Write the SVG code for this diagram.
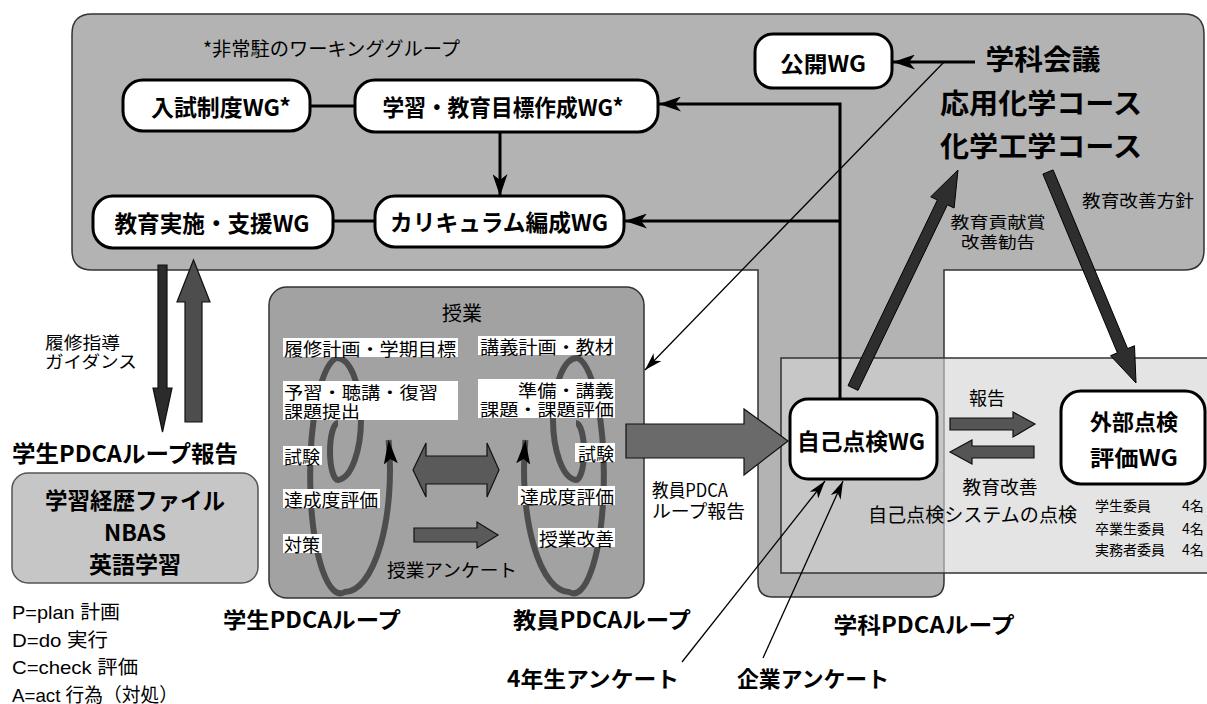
<svg xmlns="http://www.w3.org/2000/svg" width="1207" height="704" viewBox="0 0 1207 704">
<style>
.t{font-family:"Noto Sans CJK JP","Noto Sans",sans-serif;fill:#000;dominant-baseline:central}
.l{font-family:"Liberation Sans","Noto Sans CJK JP",sans-serif;fill:#000;dominant-baseline:central;font-size:19px}
.b{font-weight:bold}
.c{text-anchor:middle}
.e{text-anchor:end}
.node{fill:#fff;stroke:#000;stroke-width:3}
.con{fill:none;stroke:#000;stroke-width:3}
.thin{fill:none;stroke:#000;stroke-width:1.3}
.lab{fill:#fff}
.fat{stroke:#111;stroke-width:1.2}
</style>
<defs>
<marker id="ah" viewBox="0 0 22 15" refX="22" refY="7.5" markerWidth="22" markerHeight="15" markerUnits="userSpaceOnUse" orient="auto"><path d="M0,0 L22,7.5 L0,15 L6,7.5 z" fill="#000"/></marker>
<marker id="aht" viewBox="0 0 18 11" refX="18" refY="5.5" markerWidth="18" markerHeight="11" markerUnits="userSpaceOnUse" orient="auto"><path d="M0,0 L18,5.5 L0,11 L5,5.5 z" fill="#000"/></marker>
<marker id="ahs" viewBox="0 0 24 14" refX="24" refY="7" markerWidth="24" markerHeight="14" markerUnits="userSpaceOnUse" orient="auto"><path d="M0,0 L24,7 L0,14 L5,7 z" fill="#000"/></marker>
<path id="spiral" d="M 338 423 A 8 28.5 0 0 0 338 480 A 24 61 0 0 0 336 358 A 30 117 0 0 0 345 592 A 45 122 0 0 0 388.6 440" fill="none" stroke="#4d4d4d" stroke-width="6" marker-end="url(#ahs)"/>
</defs>
<rect width="1207" height="704" fill="#fff"/>

<!-- background areas -->
<g id="dept-area">
<path d="M 92 14 H 1184 Q 1204 14 1204 34 V 250 Q 1204 270 1184 270 H 944 V 582 Q 944 597 929 597 H 773 Q 758 597 758 582 V 270 H 92 Q 72 270 72 250 V 34 Q 72 14 92 14 Z" fill="#b3b3b3" stroke="#333" stroke-width="1.5"/>
<text class="t" x="203" y="47" font-size="19" textLength="257" lengthAdjust="spacingAndGlyphs">*非常駐のワーキンググループ</text>
</g>

<g id="class-area">
<rect x="269" y="287" width="375" height="311" rx="18" fill="#a2a2a2" stroke="#333" stroke-width="1.5"/>
<text class="t c" x="462" y="312" font-size="20">授業</text>
<use href="#spiral"/>
<use href="#spiral" transform="translate(914,0) scale(-1,1)"/>
<rect class="lab" x="283" y="338" width="175" height="19"/>
<text class="t" x="284" y="347.5" font-size="18" textLength="172" lengthAdjust="spacingAndGlyphs">履修計画・学期目標</text>
<rect class="lab" x="283" y="381" width="175" height="39"/>
<text class="t" font-size="17"><tspan x="284" y="390.5" textLength="154" lengthAdjust="spacingAndGlyphs">予習・聴講・復習</tspan><tspan x="284" y="410" textLength="76" lengthAdjust="spacingAndGlyphs">課題提出</tspan></text>
<rect class="lab" x="283" y="446" width="39" height="19"/>
<text class="t" x="284" y="455.5" font-size="18">試験</text>
<rect class="lab" x="283" y="489" width="97" height="19"/>
<text class="t" x="284" y="498.5" font-size="18" textLength="94" lengthAdjust="spacingAndGlyphs">達成度評価</text>
<rect class="lab" x="283" y="534" width="39" height="19"/>
<text class="t" x="284" y="543.5" font-size="18">対策</text>

<rect class="lab" x="478" y="336" width="137" height="19"/>
<text class="t e" x="614" y="345.5" font-size="18" textLength="134" lengthAdjust="spacingAndGlyphs">講義計画・教材</text>
<rect class="lab" x="478" y="379" width="137" height="39"/>
<text class="t e" font-size="17"><tspan x="614" y="388.5" textLength="96" lengthAdjust="spacingAndGlyphs">準備・講義</tspan><tspan x="614" y="408" textLength="134" lengthAdjust="spacingAndGlyphs">課題・課題評価</tspan></text>
<rect class="lab" x="575" y="443" width="40" height="19"/>
<text class="t e" x="614" y="452.5" font-size="18">試験</text>
<rect class="lab" x="518" y="486" width="97" height="19"/>
<text class="t e" x="614" y="495.5" font-size="18" textLength="94" lengthAdjust="spacingAndGlyphs">達成度評価</text>
<rect class="lab" x="538" y="528" width="77" height="19"/>
<text class="t e" x="614" y="537.5" font-size="18" textLength="75" lengthAdjust="spacingAndGlyphs">授業改善</text>

<polygon class="fat" fill="#5a5a5a" points="413,470 426,443 426,456 487,456 487,443 499,470 487,497 487,484 426,484 426,497"/>
<polygon class="fat" fill="#5a5a5a" points="414,528 477,528 477,522 498,535 477,548 477,542 414,542"/>
<text class="t c" x="452" y="569" font-size="18" textLength="130" lengthAdjust="spacingAndGlyphs">授業アンケート</text>
</g>

<g id="check-panel">
<rect x="781" y="358" width="440" height="215" fill="#d4d4d4" fill-opacity="0.62" stroke="#333" stroke-width="1.5"/>
<text class="t c" x="987" y="397" font-size="18">報告</text>
<text class="t c" x="1000" y="486" font-size="18" textLength="75" lengthAdjust="spacingAndGlyphs">教育改善</text>
<text class="t" x="868" y="513" font-size="19" textLength="209" lengthAdjust="spacingAndGlyphs">自己点検システムの点検</text>
<text class="t" font-size="14"><tspan x="1095" y="505">学生委員</tspan><tspan x="1095" y="528">卒業生委員</tspan><tspan x="1095" y="549">実務者委員</tspan></text>
<text class="t" font-size="14"><tspan x="1182" y="505">4名</tspan><tspan x="1182" y="528">4名</tspan><tspan x="1182" y="549">4名</tspan></text>
</g>

<!-- connectors -->
<g id="connectors">
<line class="con" x1="310" y1="106" x2="355" y2="106"/>
<line class="con" x1="333" y1="221" x2="375" y2="221"/>
<line class="con" x1="500" y1="132" x2="500" y2="196" marker-end="url(#ah)"/>
<path class="con" d="M 840 399 V 104 H 659" marker-end="url(#ah)"/>
<path class="con" d="M 840 221 H 625" marker-end="url(#ah)"/>
<line class="con" x1="975" y1="62" x2="893" y2="62" marker-end="url(#ah)"/>
<line class="thin" x1="944" y1="62" x2="645" y2="370" marker-end="url(#aht)"/>
<line class="thin" x1="682" y1="662" x2="825" y2="481" marker-end="url(#aht)"/>
<line class="thin" x1="763" y1="658" x2="843" y2="481" marker-end="url(#aht)"/>
<polygon class="fat" fill="#2b2b2b" points="158,265 167,265 167,388 172,388 162.5,432 153,388 158,388"/>
<polygon class="fat" fill="#4d4d4d" points="185,422 185,302 177,302 193.5,260 210,302 202,302 202,422"/>
<polygon class="fat" fill="#6a6a6a" points="626,424 744,424 744,409 788,441 744,475 744,458 626,458"/>
<polygon class="fat" fill="#555" points="950,418 1013,418 1013,412 1035,424 1013,437 1013,430 950,430"/>
<polygon class="fat" fill="#555" points="1034,446 972,446 972,440 950,452 972,464 972,458 1034,458"/>
<polygon fill="#2e2e2e" stroke="#000" stroke-width="1" points="858,390.4 947.4,204.8 954.1,208 958,170 930.7,196.8 937.4,200 848,385.6"/>
<polygon fill="#2e2e2e" stroke="#000" stroke-width="1" points="1042.9,174.1 1117.4,352.8 1110.5,355.7 1136,383 1134.5,345.7 1127.6,348.6 1053.1,169.9"/>
</g>

<!-- nodes -->
<g id="node-nyushi">
<rect class="node" x="123" y="80" width="187" height="51" rx="20"/>
<text class="t b c" x="221" y="106" font-size="23" textLength="140" lengthAdjust="spacingAndGlyphs">入試制度WG*</text>
</g>
<g id="node-mokuhyo">
<rect class="node" x="355" y="80" width="303" height="52" rx="20"/>
<text class="t b c" x="503" y="106" font-size="23" textLength="241" lengthAdjust="spacingAndGlyphs">学習・教育目標作成WG*</text>
</g>
<g id="node-jisshi">
<rect class="node" x="93" y="196" width="240" height="52" rx="20"/>
<text class="t b c" x="212" y="222" font-size="23" textLength="195" lengthAdjust="spacingAndGlyphs">教育実施・支援WG</text>
</g>
<g id="node-curriculum">
<rect class="node" x="375" y="196" width="249" height="51" rx="20"/>
<text class="t b c" x="499" y="221" font-size="23" textLength="218" lengthAdjust="spacingAndGlyphs">カリキュラム編成WG</text>
</g>
<g id="node-kokai">
<rect class="node" x="755" y="34" width="137" height="54" rx="18"/>
<text class="t b c" x="823" y="62" font-size="22" textLength="86" lengthAdjust="spacingAndGlyphs">公開WG</text>
</g>
<g id="node-gakka">
<text class="t b c" font-size="28"><tspan x="1043" y="58" textLength="115" lengthAdjust="spacingAndGlyphs">学科会議</tspan><tspan x="1041" y="102" textLength="202" lengthAdjust="spacingAndGlyphs">応用化学コース</tspan><tspan x="1041" y="145" textLength="202" lengthAdjust="spacingAndGlyphs">化学工学コース</tspan></text>
</g>
<g id="node-jiko">
<rect class="node" x="790" y="399" width="147" height="80" rx="18"/>
<text class="t b c" x="861" y="440" font-size="23" textLength="128" lengthAdjust="spacingAndGlyphs">自己点検WG</text>
</g>
<g id="node-gaibu">
<rect class="node" x="1061" y="391" width="144" height="93" rx="20"/>
<text class="t b c" font-size="22"><tspan x="1134" y="420" textLength="88" lengthAdjust="spacingAndGlyphs">外部点検</tspan><tspan x="1134" y="456" textLength="88" lengthAdjust="spacingAndGlyphs">評価WG</tspan></text>
</g>
<g id="node-file">
<rect x="12" y="473" width="246" height="110" rx="16" fill="#c6c6c6" stroke="#555" stroke-width="1.5"/>
<text class="t b c" font-size="23"><tspan x="135" y="499" textLength="180" lengthAdjust="spacingAndGlyphs">学習経歴ファイル</tspan><tspan x="135" y="531">NBAS</tspan><tspan x="135" y="563">英語学習</tspan></text>
</g>

<!-- free labels -->
<g id="labels">
<text class="t" x="1082" y="199" font-size="17" textLength="112" lengthAdjust="spacingAndGlyphs">教育改善方針</text>
<text class="t c" font-size="16"><tspan x="998" y="221" textLength="95" lengthAdjust="spacingAndGlyphs">教育貢献賞</tspan><tspan x="998" y="241" textLength="74" lengthAdjust="spacingAndGlyphs">改善勧告</tspan></text>
<text class="t" font-size="17"><tspan x="45" y="341" textLength="75" lengthAdjust="spacingAndGlyphs">履修指導</tspan><tspan x="45" y="360" textLength="92" lengthAdjust="spacingAndGlyphs">ガイダンス</tspan></text>
<text class="t b" x="12" y="452" font-size="23" textLength="226" lengthAdjust="spacingAndGlyphs">学生PDCAループ報告</text>
<text class="t" font-size="18"><tspan x="652" y="489" textLength="76" lengthAdjust="spacingAndGlyphs">教員PDCA</tspan><tspan x="652" y="510" textLength="93" lengthAdjust="spacingAndGlyphs">ループ報告</tspan></text>
<text class="t b c" x="312" y="618" font-size="22" textLength="178" lengthAdjust="spacingAndGlyphs">学生PDCAループ</text>
<text class="t b c" x="602" y="618" font-size="22" textLength="178" lengthAdjust="spacingAndGlyphs">教員PDCAループ</text>
<text class="t b c" x="924" y="623" font-size="22" textLength="181" lengthAdjust="spacingAndGlyphs">学科PDCAループ</text>
<text class="t b c" x="593" y="677" font-size="22" textLength="172" lengthAdjust="spacingAndGlyphs">4年生アンケート</text>
<text class="t b c" x="813" y="677" font-size="22" textLength="152" lengthAdjust="spacingAndGlyphs">企業アンケート</text>
<text class="l"><tspan x="12" y="612" textLength="108" lengthAdjust="spacingAndGlyphs">P=plan 計画</tspan><tspan x="12" y="640" textLength="96" lengthAdjust="spacingAndGlyphs">D=do 実行</tspan><tspan x="12" y="667" textLength="126" lengthAdjust="spacingAndGlyphs">C=check 評価</tspan><tspan x="12" y="695" textLength="166" lengthAdjust="spacingAndGlyphs">A=act 行為（対処）</tspan></text>
</g>
</svg>
